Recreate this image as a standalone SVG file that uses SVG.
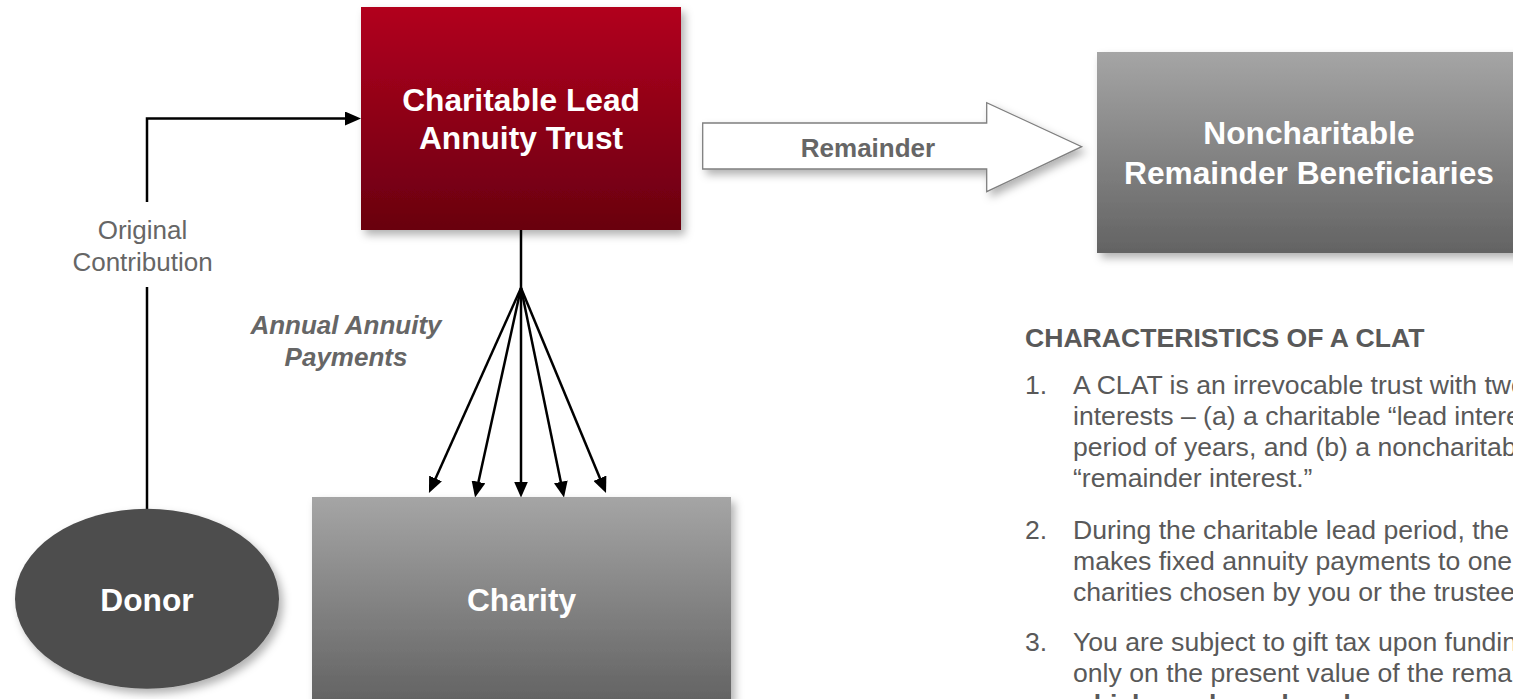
<svg xmlns="http://www.w3.org/2000/svg" width="1513" height="699" viewBox="0 0 1513 699">
  <defs>
    <linearGradient id="gRed" x1="0" y1="0" x2="0" y2="1">
      <stop offset="0" stop-color="#b2001f"/>
      <stop offset="1" stop-color="#69000f"/>
    </linearGradient>
    <linearGradient id="gGray" x1="0" y1="0" x2="0" y2="1">
      <stop offset="0" stop-color="#a5a5a5"/>
      <stop offset="1" stop-color="#636363"/>
    </linearGradient>
    <filter id="shadow" x="-10%" y="-10%" width="130%" height="130%">
      <feDropShadow dx="4" dy="5" stdDeviation="4" flood-color="#000" flood-opacity="0.3"/>
    </filter>
    <marker id="arrow" markerWidth="16" markerHeight="14" refX="12" refY="7" orient="auto" markerUnits="userSpaceOnUse">
      <path d="M0,0 L16,7 L0,14 z" fill="#000"/>
    </marker>
    <style>
      text { font-family: "Liberation Sans", Arial, sans-serif; }
      .node-label { font-size: 31.7px; font-weight: bold; fill: #ffffff; text-anchor: middle; }
      .edge-label { font-size: 26px; fill: #666666; text-anchor: middle; }
      .conn { stroke: #000; stroke-width: 2.5; fill: none; }
      .body { font-size: 26.6px; fill: #595959; }
    </style>
  </defs>

  <!-- connectors -->
  <g id="connectors">
    <!-- donor to trust -->
    <path class="conn" d="M147,509 V287"/>
    <path class="conn" d="M147,202 V118.5 H357" marker-end="url(#arrow)"/>
    <!-- trust to charity: annuity payments -->
    <path class="conn" d="M521,230 V288"/>
    <line class="conn" x1="521" y1="288" x2="430.6" y2="489.4" marker-end="url(#arrow)"/>
    <line class="conn" x1="521" y1="288" x2="475.9" y2="493.6" marker-end="url(#arrow)"/>
    <line class="conn" x1="521" y1="288" x2="521" y2="493.5" marker-end="url(#arrow)"/>
    <line class="conn" x1="521" y1="288" x2="563.2" y2="493.6" marker-end="url(#arrow)"/>
    <line class="conn" x1="521" y1="288" x2="604.5" y2="489.3" marker-end="url(#arrow)"/>
    <!-- remainder block arrow -->
    <g id="remainder-arrow">
      <polygon points="702.7,123 986.7,123 986.7,102.7 1081.7,146.7 986.7,191.7 986.7,169 702.7,169" fill="#ffffff" stroke="#7f7f7f" stroke-width="1.3" filter="url(#shadow)"/>
      <text class="edge-label" x="868" y="157" font-weight="bold">Remainder</text>
    </g>
    <text class="edge-label" x="142.5" y="239">Original</text>
    <text class="edge-label" x="142.5" y="271">Contribution</text>
    <text class="edge-label" x="346" y="334" font-weight="bold" font-style="italic">Annual Annuity</text>
    <text class="edge-label" x="346" y="366" font-weight="bold" font-style="italic">Payments</text>
  </g>

  <!-- trust -->
  <g id="clat">
    <rect x="361" y="7" width="320" height="223" fill="url(#gRed)" filter="url(#shadow)"/>
    <text class="node-label" x="521" y="111">Charitable Lead</text>
    <text class="node-label" x="521" y="149">Annuity Trust</text>
  </g>

  <!-- remainder beneficiaries -->
  <g id="noncharitable">
    <rect x="1097" y="52" width="424" height="201" fill="url(#gGray)" filter="url(#shadow)"/>
    <text class="node-label" x="1309" y="144">Noncharitable</text>
    <text class="node-label" x="1309" y="184">Remainder Beneficiaries</text>
  </g>

  <!-- donor -->
  <g id="donor">
    <ellipse cx="147" cy="598.7" rx="132" ry="90" fill="#4d4d4d" filter="url(#shadow)"/>
    <text class="node-label" x="147" y="611">Donor</text>
  </g>

  <!-- charity -->
  <g id="charity">
    <rect x="312" y="497" width="419" height="205" fill="url(#gGray)" filter="url(#shadow)"/>
    <text class="node-label" x="521.5" y="611">Charity</text>
  </g>

  <!-- characteristics list -->
  <g id="characteristics">
    <text class="body" x="1025" y="347" font-weight="bold" font-size="26.7">CHARACTERISTICS OF A CLAT</text>
    <text class="body" x="1025" y="394">1.</text>
    <text class="body" x="1073" y="394">A CLAT is an irrevocable trust with two</text>
    <text class="body" x="1073" y="425">interests – (a) a charitable “lead interest”</text>
    <text class="body" x="1073" y="456">period of years, and (b) a noncharitable</text>
    <text class="body" x="1073" y="487">“remainder interest.”</text>
    <text class="body" x="1025" y="539">2.</text>
    <text class="body" x="1073" y="539">During the charitable lead period, the</text>
    <text class="body" x="1073" y="570">makes fixed annuity payments to one</text>
    <text class="body" x="1073" y="601">charities chosen by you or the trustee</text>
    <text class="body" x="1025" y="651">3.</text>
    <text class="body" x="1073" y="651">You are subject to gift tax upon funding</text>
    <text class="body" x="1073" y="682">only on the present value of the remainder</text>
    <text class="body" x="1073" y="713" font-weight="bold">which can be reduced</text>
  </g>
</svg>
